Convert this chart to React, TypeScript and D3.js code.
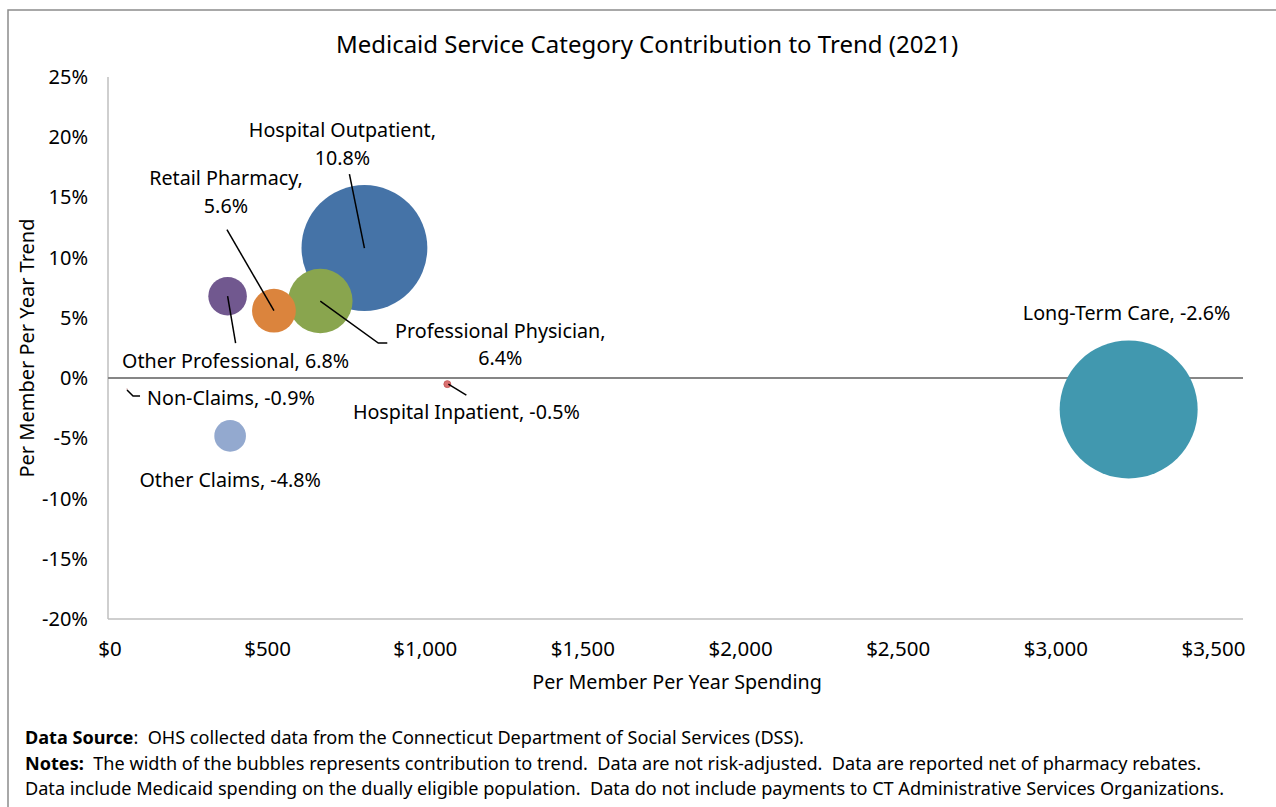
import React, { useRef, useEffect } from "react";
import * as d3 from "d3";

const categories = [
  "Hospital Outpatient",
  "Professional Physician",
  "Retail Pharmacy",
  "Other Professional",
  "Non-Claims",
  "Hospital Inpatient",
  "Other Claims",
  "Long-Term Care",
];
// Per member per year spending ($)
const spending = [807, 667, 520, 373, 54, 1070, 381, 3231];
// Per member per year trend (%)
const trend = [10.8, 6.4, 5.6, 6.8, -0.9, -0.5, -4.8, -2.6];
// contribution to trend (drives bubble width)
const contribution = [3.1, 1.59, 1.08, 0.95, 0.02, 0.17, 0.78, 3.4];
const colors = ["#4573A7", "#89A54E", "#DB843D", "#71588F", "#AA4643", "#DB7070", "#93A9CF", "#4198AF"];

const xTicks = [0, 500, 1000, 1500, 2000, 2500, 3000, 3500];
const yTicks = [-20, -15, -10, -5, 0, 5, 10, 15, 20, 25];

const title = "Medicaid Service Category Contribution to Trend (2021)";
const xTitle = "Per Member Per Year Spending";
const yTitle = "Per Member Per Year Trend";

// label placement relative to the bubble centre (px)
const labelLayout: Record<string, { dx: number; dy: number[]; anchor: string; split: boolean; leader?: [number, number][] }> = {
  "Hospital Outpatient": { dx: -22, dy: [-111, -83], anchor: "middle", split: true, leader: [[-15, -74], [0, 0]] },
  "Professional Physician": { dx: 180, dy: [37, 64], anchor: "middle", split: true, leader: [[0, 0], [58, 42], [67, 42]] },
  "Retail Pharmacy": { dx: -48, dy: [-126, -98], anchor: "middle", split: true, leader: [[-47, -81], [0, 0]] },
  "Other Professional": { dx: 8, dy: [72], anchor: "middle", split: false, leader: [[0, 0], [8, 47]] },
  "Non-Claims": { dx: 20, dy: [16], anchor: "start", split: false, leader: [[0, 1], [6, 7], [13, 7]] },
  "Hospital Inpatient": { dx: 19, dy: [35], anchor: "middle", split: false, leader: [[1, 0], [19, 11]] },
  "Other Claims": { dx: 0, dy: [51], anchor: "middle", split: false },
  "Long-Term Care": { dx: -2, dy: [-89], anchor: "middle", split: false },
};

const W = 1276;
const H = 807;
const FONT = "'Noto Sans', 'Open Sans', sans-serif";

export default function App() {
  const svgRef = useRef<SVGSVGElement>(null);

  useEffect(() => {
    if (!svgRef.current) return;
    const svg = d3.select(svgRef.current);
    svg.selectAll("*").remove();

    const left = 108;
    const right = 1243;
    const top = 77;
    const bottom = 619;

    const x = d3.scaleLinear().domain([0, 3600]).range([left + 2, right + 2]);
    const y = d3.scaleLinear().domain([-20, 25]).range([bottom, top]);
    const r = d3.scaleLinear().domain([0, d3.max(contribution) as number]).range([0, 69]);

    svg.append("rect").attr("width", W).attr("height", H).attr("fill", "#fff");

    // outer frame (right and bottom edges lie outside the picture)
    svg
      .append("rect")
      .attr("x", 8)
      .attr("y", 10)
      .attr("width", 1300)
      .attr("height", 820)
      .attr("fill", "none")
      .attr("stroke", "#8c8c8c")
      .attr("stroke-width", 1.5);

    // title
    svg
      .append("text")
      .attr("x", 647)
      .attr("y", 53)
      .attr("text-anchor", "middle")
      .style("font-family", FONT)
      .style("font-size", "24px")
      .style("fill", "#000")
      .text(title);

    // axes lines
    svg
      .append("line")
      .attr("x1", left)
      .attr("x2", left)
      .attr("y1", top)
      .attr("y2", bottom)
      .attr("stroke", "#bfbfbf")
      .attr("stroke-width", 1.5);
    svg
      .append("line")
      .attr("x1", left)
      .attr("x2", right)
      .attr("y1", bottom)
      .attr("y2", bottom)
      .attr("stroke", "#bfbfbf")
      .attr("stroke-width", 1.5);
    svg
      .append("line")
      .attr("x1", left)
      .attr("x2", right)
      .attr("y1", y(0))
      .attr("y2", y(0))
      .attr("stroke", "#868686")
      .attr("stroke-width", 2);

    // tick labels
    svg
      .selectAll(".ytick")
      .data(yTicks)
      .enter()
      .append("text")
      .attr("x", 88)
      .attr("y", (d) => y(d))
      .attr("dy", "0.35em")
      .attr("text-anchor", "end")
      .style("font-family", FONT)
      .style("font-size", "20px")
      .style("fill", "#000")
      .text((d) => `${d}%`);

    svg
      .selectAll(".xtick")
      .data(xTicks)
      .enter()
      .append("text")
      .attr("x", (d) => x(d))
      .attr("y", 656)
      .attr("text-anchor", "middle")
      .style("font-family", FONT)
      .style("font-size", "20.5px")
      .style("fill", "#000")
      .text((d) => d3.format("$,")(d));

    // axis titles
    svg
      .append("text")
      .attr("x", 677)
      .attr("y", 689)
      .attr("text-anchor", "middle")
      .style("font-family", FONT)
      .style("font-size", "19.7px")
      .text(xTitle);
    svg
      .append("text")
      .attr("transform", `translate(34,348) rotate(-90)`)
      .attr("text-anchor", "middle")
      .style("font-family", FONT)
      .style("font-size", "20px")
      .text(yTitle);

    // bubbles
    categories.forEach((c, i) => {
      svg
        .append("circle")
        .attr("cx", x(spending[i]))
        .attr("cy", y(trend[i]))
        .attr("r", Math.max(r(contribution[i]), 0.5))
        .attr("fill", colors[i])
        .attr("stroke", c === "Hospital Inpatient" ? "#C65C5C" : "none")
        .attr("stroke-width", 1);
    });

    // leader lines and labels
    categories.forEach((c, i) => {
      const cx = x(spending[i]);
      const cy = y(trend[i]);
      const lay = labelLayout[c];
      if (lay.leader) {
        svg
          .append("path")
          .attr("d", d3.line()(lay.leader.map(([a, b]) => [cx + a, cy + b])))
          .attr("fill", "none")
          .attr("stroke", "#000")
          .attr("stroke-width", 1.5);
      }
      const val = `${trend[i].toFixed(1)}%`;
      const lines = lay.split ? [`${c},`, val] : [`${c}, ${val}`];
      lines.forEach((ln, k) => {
        svg
          .append("text")
          .attr("x", cx + lay.dx)
          .attr("y", cy + lay.dy[k])
          .attr("text-anchor", lay.anchor)
          .style("font-family", FONT)
          .style("font-size", "19.7px")
          .style("fill", "#000")
          .text(ln);
      });
    });

    // footer notes
    const notes = [
      { b: "Data Source", t: ":  OHS collected data from the Connecticut Department of Social Services (DSS)." },
      { b: "Notes:", t: "  The width of the bubbles represents contribution to trend.  Data are not risk-adjusted.  Data are reported net of pharmacy rebates." },
      { b: "", t: "Data include Medicaid spending on the dually eligible population.  Data do not include payments to CT Administrative Services Organizations." },
    ];
    notes.forEach((n, k) => {
      const t = svg
        .append("text")
        .attr("x", 25)
        .attr("y", 744 + k * 25.5)
        .style("font-family", FONT)
        .style("font-size", "18.1px")
        .style("fill", "#000")
        .attr("xml:space", "preserve")
        .style("white-space", "pre");
      if (n.b) t.append("tspan").style("font-weight", "bold").text(n.b);
      t.append("tspan").text(n.t);
    });
  }, []);

  return (
    <svg
      ref={svgRef}
      width={W}
      height={H}
      viewBox={`0 0 ${W} ${H}`}
      style={{ position: "absolute", left: 0, top: 0, display: "block" }}
    />
  );
}
